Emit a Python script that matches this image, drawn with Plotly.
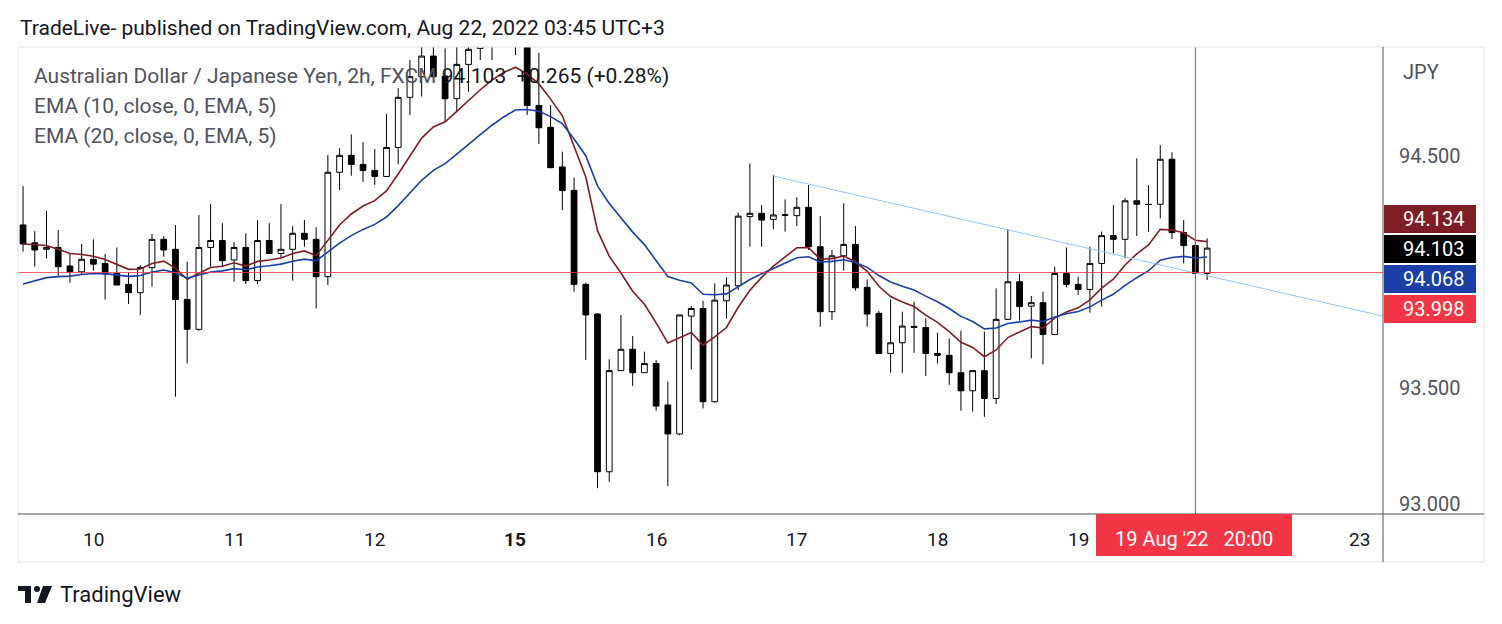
import plotly.graph_objects as go

# ---------------- data (AUD/JPY 2h candles) ----------------
opens = [94.203,94.126,94.098,94.106,94.026,94.001,94.055,94.037,93.994,93.947,
         93.911,94.019,94.141,94.098,93.882,93.753,94.106,94.136,94.052,94.106,
         93.963,94.136,94.080,94.098,94.167,94.141,93.980,94.430,94.503,94.464,
         94.438,94.412,94.537,94.753,94.842,94.931,94.845,94.747,94.895,94.964,
         94.986,95.029,95.029,94.971,94.718,94.624,94.453,94.352,93.947,93.819,
         93.139,93.575,93.667,93.566,93.606,93.427,93.302,93.810,93.843,93.441,
         93.876,93.941,94.239,94.253,94.227,94.244,94.243,94.279,94.109,93.829,
         94.070,94.119,93.934,93.822,93.649,93.695,93.766,93.761,93.649,93.641,
         93.566,93.488,93.575,93.455,93.796,93.958,93.853,93.868,93.731,93.994,
         93.947,93.925,94.037,94.157,94.141,94.307,94.292,94.292,94.486,94.170,
         94.114,93.994]
highs = [94.371,94.177,94.263,94.181,94.080,94.121,94.141,94.078,94.106,93.997,
         94.030,94.164,94.155,94.203,94.045,94.246,94.293,94.211,94.129,94.167,
         94.224,94.211,94.293,94.198,94.224,94.193,94.504,94.533,94.593,94.560,
         94.530,94.681,94.792,94.914,94.971,94.978,94.964,94.986,94.993,95.014,
         95.043,95.057,95.057,95.000,94.945,94.720,94.519,94.407,93.954,93.822,
         93.624,93.815,93.724,93.657,93.621,93.527,93.815,93.853,93.876,93.951,
         93.977,94.256,94.468,94.289,94.418,94.313,94.322,94.375,94.241,94.095,
         94.296,94.198,93.968,93.833,93.882,93.829,93.872,93.800,93.738,93.714,
         93.747,93.575,93.743,93.930,94.184,93.991,93.897,93.915,94.023,94.106,
         93.980,94.109,94.174,94.289,94.318,94.490,94.375,94.547,94.516,94.224,
         94.131,94.145]
lows = [94.088,94.023,94.059,93.983,93.954,93.987,94.006,93.882,93.944,93.862,
        93.815,93.937,94.066,93.463,93.606,93.747,94.023,94.023,93.958,93.948,
        93.948,94.080,94.059,93.963,94.109,93.843,93.944,94.353,94.415,94.389,
        94.375,94.412,94.464,94.677,94.756,94.835,94.648,94.691,94.777,94.914,
        94.914,94.971,94.935,94.677,94.552,94.447,94.267,93.915,93.621,93.068,
        93.096,93.575,93.509,93.566,93.402,93.078,93.297,93.580,93.412,93.437,
        93.800,93.922,94.109,94.109,94.184,94.174,94.198,94.095,93.764,93.793,
        94.006,93.920,93.764,93.649,93.566,93.566,93.652,93.552,93.606,93.513,
        93.402,93.398,93.376,93.431,93.793,93.790,93.628,93.602,93.728,93.934,
        93.901,93.825,93.851,94.080,94.059,94.155,94.174,94.231,94.142,94.037,
        93.987,93.966]
closes = [94.121,94.095,94.106,94.023,94.001,94.055,94.034,93.991,93.944,93.911,
          94.020,94.141,94.095,93.882,93.753,94.106,94.136,94.049,94.106,93.963,
          94.136,94.080,94.098,94.167,94.141,93.980,94.430,94.503,94.464,94.438,
          94.412,94.537,94.753,94.842,94.931,94.842,94.747,94.895,94.960,94.986,
          95.014,95.007,94.986,94.718,94.622,94.450,94.351,93.947,93.815,93.139,
          93.575,93.667,93.566,93.606,93.422,93.302,93.815,93.843,93.441,93.879,
          93.944,94.241,94.253,94.224,94.246,94.247,94.279,94.109,93.829,94.070,
          94.119,93.932,93.819,93.649,93.695,93.767,93.761,93.649,93.641,93.566,
          93.488,93.575,93.455,93.796,93.958,93.851,93.868,93.731,93.994,93.947,
          93.925,94.037,94.157,94.141,94.307,94.292,94.291,94.486,94.170,94.114,
          93.994,94.103]

day_labels = ["10", "11", "12", "15", "16", "17", "18", "19", "23"]
day_index = [6, 18, 30, 42, 54, 66, 78, 90, 114]
price_ticks = [93.0, 93.5, 94.5]
ema10_seed, ema20_seed = 94.121, 93.930
trend_idx = [64, 116]
trend_price = [94.414, 93.810]
last_line = 93.998
cross_idx = 100
badges = [("94.134", "#7f1d24"), ("94.103", "#000000"), ("94.068", "#1b3fa6"), ("93.998", "#f23645")]

# ---------------- helpers ----------------
def ema(vals, n, seed):
    k = 2 / (n + 1); out = []; e = seed
    for v in vals:
        e = v * k + e * (1 - k); out.append(e)
    return out

x = list(range(len(closes)))
e10 = ema(closes, 10, ema10_seed)
e20 = ema(closes, 20, ema20_seed)

OFF = 8  # page body margin
L, R, T, B, W, H = 18, 1383, 47, 514, 1502, 624
def px(v): return (v - L) / (R - L)
def py(v): return (B - v) / (B - T)

fig = go.Figure()
fig.add_trace(go.Candlestick(x=x, open=opens, high=highs, low=lows, close=closes,
    increasing=dict(fillcolor="white", line=dict(color="black", width=1)),
    decreasing=dict(fillcolor="black", line=dict(color="black", width=1)),
    whiskerwidth=0, hoverinfo="skip", showlegend=False))
fig.add_trace(go.Scatter(x=x, y=e10, mode="lines", line=dict(color="#7f1d24", width=1.6),
                         hoverinfo="skip", showlegend=False))
fig.add_trace(go.Scatter(x=x, y=e20, mode="lines", line=dict(color="#1b3fa6", width=1.6),
                         hoverinfo="skip", showlegend=False))
fig.add_trace(go.Scatter(x=trend_idx, y=trend_price, mode="lines",
                         line=dict(color="#90c4f5", width=1), hoverinfo="skip", showlegend=False))

shapes = [
    dict(type="line", xref="paper", yref="y", x0=0, x1=1, y0=last_line, y1=last_line,
         line=dict(color="#f23645", width=0.8)),
    dict(type="line", xref="x", yref="paper", x0=cross_idx, x1=cross_idx, y0=0, y1=1,
         line=dict(color="#f23645", width=1)),
    dict(type="rect", xref="paper", yref="paper", x0=0, x1=px(1484), y0=py(562), y1=1,
         line=dict(color="#e0e3eb", width=1)),
    dict(type="line", xref="paper", yref="paper", x0=0, x1=px(1484), y0=0, y1=0,
         line=dict(color="#50535e", width=1)),
    dict(type="line", xref="paper", yref="paper", x0=1, x1=1, y0=py(562), y1=1,
         line=dict(color="#50535e", width=1)),
    dict(type="rect", xref="paper", yref="paper", x0=px(1096), x1=px(1292), y0=py(556), y1=0,
         fillcolor="#f23645", line=dict(width=0)),
    # TradingView logo
    dict(type="rect", xref="paper", yref="paper", x0=px(18), x1=px(31), y0=py(591), y1=py(586),
         fillcolor="#131722", line=dict(width=0)),
    dict(type="rect", xref="paper", yref="paper", x0=px(25), x1=px(31), y0=py(603), y1=py(586),
         fillcolor="#131722", line=dict(width=0)),
    dict(type="circle", xref="paper", yref="paper", x0=px(34), x1=px(40), y0=py(592), y1=py(586),
         fillcolor="#131722", line=dict(width=0)),
    dict(type="path", xref="paper", yref="paper",
         path=f"M {px(43)} {py(586)} L {px(52)} {py(586)} L {px(45)} {py(603)} L {px(37)} {py(603)} Z",
         fillcolor="#131722", line=dict(width=0)),
]

ann = []
def text(xp, yp, s, size=18, color="#131722", xa="left", ya="middle", xref="paper", yref="paper"):
    ann.append(dict(x=xp, y=yp, xref=xref, yref=yref, text=s, showarrow=False, xanchor=xa,
                    yanchor=ya, font=dict(size=size, color=color, family="Roboto")))

text(px(18), py(28), "TradeLive- published on TradingView.com, Aug 22, 2022 03:45 UTC+3", 21, "#131722")
text(px(32), py(76), "Australian Dollar / Japanese Yen, 2h, FXCM <span style='color:#131722'>94.103  +0.265 (+0.28%)</span>", 21, "#50535e")
text(px(32), py(106), "EMA (10, close, 0, EMA, 5)", 21, "#50535e")
text(px(32), py(136), "EMA (20, close, 0, EMA, 5)", 21, "#50535e")
text(px(58), py(594), "TradingView", 22, "#131722")
text(px(1401), py(72), "JPY", 20, "#50535e")
for p in price_ticks:
    text(px(1397), p, f"{p:.3f}", 20, "#50535e", yref="y")
for lab, i in zip(day_labels, day_index):
    s = f"<b>{lab}</b>" if lab == "15" else lab
    text(i, py(539), s, 19, "#131722", xa="center", xref="x")
text(px(1194), py(539), "19 Aug '22   20:00", 20, "white", xa="center")
for k, (lab, col) in enumerate(badges):
    y0 = 205 + 30 * k
    shapes.append(dict(type="rect", xref="paper", yref="paper", x0=px(1384), x1=px(1476),
                       y0=py(y0 + 28), y1=py(y0), fillcolor=col, line=dict(width=0)))
    text(px(1433), py(y0 + 14), lab, 20, "white", xa="center")

fig.update_layout(
    width=W - OFF, height=H - OFF,
    margin=dict(l=L - OFF, r=W - R, t=T - OFF, b=H - B),
    paper_bgcolor="white", plot_bgcolor="white",
    xaxis=dict(range=[-0.43, 116.0], showgrid=False, zeroline=False, showticklabels=False,
               rangeslider=dict(visible=False), fixedrange=True),
    yaxis=dict(range=[92.957, 94.970], showgrid=False, zeroline=False, showticklabels=False,
               fixedrange=True),
    shapes=shapes, annotations=ann, showlegend=False,
)
fig.write_html("out.html", config=dict(displayModeBar=False))
